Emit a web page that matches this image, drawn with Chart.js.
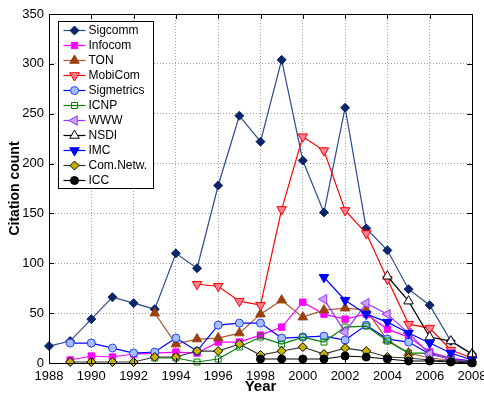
<!DOCTYPE html>
<html>
<head>
<meta charset="utf-8">
<title>Citation count per year</title>
<script src="https://cdn.jsdelivr.net/npm/chart.js@4.4.0/dist/chart.umd.min.js"></script>
<style>
  html, body { margin: 0; padding: 0; background: #fff; }
  #c { display: block; }
</style>
</head>
<body>
<canvas id="c" width="484" height="394"></canvas>
<script>
/* ── Citations per venue, by year (null = venue not yet running) ── */
const years      = [1988, 1989, 1990, 1991, 1992, 1993, 1994, 1995, 1996, 1997, 1998,
                    1999, 2000, 2001, 2002, 2003, 2004, 2005, 2006, 2007, 2008];
const sigcomm    = [17, 22, 44, 66, 60, 54, 110, 95, 178, 248, 222, 304, 203, 151, 256, 135, 113, 74, 58, 22, 9];
const infocom    = [null, 3, 7, 6, 9, 10, 11, 10, 21, 21, 28, 36, 61, 49, 44, 49, 34, 26, 11, 5, 2];
const ton        = [null, null, null, null, null, 50, 19, 24, 25, 30, 49, 63, 46, 53, 55, 53, 23, 10, 5, 3, 1];
const mobicom    = [null, null, null, null, null, null, null, 79, 77, 62, 58, 154, 227, 213, 153, 130, 84, 39, 35, 13, 5];
const sigmetrics = [null, 20, 20, 15, 10, 11, 25, 12, 38, 40, 40, 25, 26, 27, 23, 38, 24, 21, 9, 4, 2];
const icnp       = [null, null, null, null, null, 5, 5, 1, 4, 16, 26, 19, 26, 21, 36, 37, 22, 10, 10, 4, 1];
const www        = [null, null, null, null, null, null, null, null, null, null, null, null, null, 64, 31, 60, 49, 30, 9, 4, 1];
const nsdi       = [null, null, null, null, null, null, null, null, null, null, null, null, null, null, null, null, 87, 62, 26, 22, 9];
const imc        = [null, null, null, null, null, null, null, null, null, null, null, null, null, 86, 63, 49, 41, 30, 20, 10, 3];
const comnetw    = [null, 1, 1, 1, 1, 6, 6, 12, 12, 19, 8, 12, 16, 9, 15, 12, 6, 5, 3, 2, 1];
const icc        = [null, null, null, null, null, null, null, null, null, null, 4, 4, 4, 4, 7, 6, 4, 2, 2, 1, 0];

const xTicks = [1988, 1990, 1992, 1994, 1996, 1998, 2000, 2002, 2004, 2006, 2008];
const yTicks = [0, 50, 100, 150, 200, 250, 300, 350];

const FONT = "'Liberation Sans', Arial, Helvetica, sans-serif";

/* ── Line / marker style per venue ── */
const series = [
  { label: 'Sigcomm',    data: sigcomm,    line: '#2a4a8c', fill: '#0a2668', edge: '#0a2668', style: 'rectRot',  rot: 0,   r: 4.5 },
  { label: 'Infocom',    data: infocom,    line: '#ff00ff', fill: '#ff00ff', edge: '#ff00ff', style: 'rect',     rot: 0,   r: 4.5 },
  { label: 'TON',        data: ton,        line: '#a65a33', fill: '#9a400f', edge: '#9a400f', style: 'triangle', rot: 0,   r: 5.5 },
  { label: 'MobiCom',    data: mobicom,    line: '#ff0000', fill: '#ff8095', edge: '#ff0000', style: 'triangle', rot: 180, r: 5.5 },
  { label: 'Sigmetrics', data: sigmetrics, line: '#0000ff', fill: '#a6c0ff', edge: '#2040ff', style: 'circle',   rot: 0,   r: 4 },
  { label: 'ICNP',       data: icnp,       line: '#008000', fill: 'rgba(255,255,255,0)', edge: '#008000', style: 'rect', rot: 0, r: 4.2 },
  { label: 'WWW',        data: www,        line: '#9933ff', fill: '#c9a3ff', edge: '#9933ff', style: 'triangle', rot: -90, r: 5.5 },
  { label: 'NSDI',       data: nsdi,       line: '#000000', fill: '#ffffff', edge: '#000000', style: 'triangle', rot: 0,   r: 5.5 },
  { label: 'IMC',        data: imc,        line: '#0000ff', fill: '#0000ff', edge: '#0000ff', style: 'triangle', rot: 180, r: 5.5 },
  { label: 'Com.Netw.',  data: comnetw,    line: '#333333', fill: '#c8b400', edge: '#000000', style: 'rectRot',  rot: 0,   r: 4.5 },
  { label: 'ICC',        data: icc,        line: '#000000', fill: '#000000', edge: '#000000', style: 'circle',   rot: 0,   r: 4 },
];

const datasets = series.map((s, i) => ({
  label:                s.label,
  data:                 years.map((yr, k) => ({ x: yr, y: s.data[k] })).filter(p => p.y !== null),
  borderColor:          s.line,
  backgroundColor:      s.fill,
  borderWidth:          1.2,
  pointStyle:           s.style,
  pointRotation:        s.rot,
  pointRadius:          s.r,
  pointHoverRadius:     s.r,
  pointBackgroundColor: s.fill,
  pointBorderColor:     s.edge,
  pointBorderWidth:     1,
  tension:              0,
  clip:                 false,
  order:                series.length - i,   // later venues painted on top
}));

/* ── Axes box with inward tick marks on all four sides ── */
const axesBox = {
  id: 'axesBox',
  afterDatasetsDraw(chart) {
    const { ctx, chartArea: a, scales: { x, y } } = chart;
    const tl = 5;
    ctx.save();
    ctx.strokeStyle = '#000';
    ctx.lineWidth = 1;
    ctx.beginPath();
    ctx.rect(Math.round(a.left) + 0.5, Math.round(a.top) + 0.5,
             Math.round(a.right - a.left), Math.round(a.bottom - a.top));
    xTicks.forEach(t => {
      const px = Math.round(x.getPixelForValue(t)) + 0.5;
      ctx.moveTo(px, a.bottom); ctx.lineTo(px, a.bottom - tl);
      ctx.moveTo(px, a.top);    ctx.lineTo(px, a.top + tl);
    });
    yTicks.forEach(t => {
      const py = Math.round(y.getPixelForValue(t)) + 0.5;
      ctx.moveTo(a.left, py);  ctx.lineTo(a.left + tl, py);
      ctx.moveTo(a.right, py); ctx.lineTo(a.right - tl, py);
    });
    ctx.stroke();
    ctx.restore();
  }
};

/* ── Boxed legend in the upper-left corner (line sample + marker + name) ── */
const boxLegend = {
  id: 'boxLegend',
  afterDraw(chart) {
    const { ctx, chartArea: a } = chart;
    const bx = Math.round(a.left) + 9.5, by = Math.round(a.top) + 7.5;
    const bw = 95, bh = 167, row = 15;
    ctx.save();
    ctx.fillStyle = '#fff';
    ctx.fillRect(bx, by, bw, bh);
    ctx.strokeStyle = '#000';
    ctx.lineWidth = 1;
    ctx.strokeRect(bx, by, bw, bh);
    ctx.font = '12px ' + FONT;
    ctx.textBaseline = 'middle';
    chart.data.datasets.forEach((ds, i) => {
      const cy = by + 9 + i * row;
      ctx.strokeStyle = ds.borderColor;
      ctx.lineWidth = ds.borderWidth;
      ctx.beginPath();
      ctx.moveTo(bx + 5, cy); ctx.lineTo(bx + 27, cy);
      ctx.stroke();
      ctx.fillStyle = ds.pointBackgroundColor;
      ctx.strokeStyle = ds.pointBorderColor;
      ctx.lineWidth = ds.pointBorderWidth;
      Chart.helpers.drawPoint(ctx, {
        pointStyle: ds.pointStyle, rotation: ds.pointRotation,
        radius: ds.pointRadius, borderWidth: ds.pointBorderWidth
      }, bx + 16, cy);
      ctx.fillStyle = '#000';
      ctx.fillText(ds.label, bx + 30, cy + 0.5);
    });
    ctx.restore();
  }
};

const gridOpts = { color: '#a0a0a0', lineWidth: 1, drawTicks: false };

new Chart(document.getElementById('c'), {
  type: 'line',
  data: { datasets },
  plugins: [axesBox, boxLegend],
  options: {
    responsive:       false,
    animation:        false,
    devicePixelRatio: 1,
    layout: { padding: { top: 14, right: 12, left: 0, bottom: 0 } },
    plugins: { legend: { display: false }, tooltip: { enabled: false } },
    scales: {
      x: {
        type: 'linear', min: 1988, max: 2008,
        grid: gridOpts,
        border: { display: false, dash: [1, 2] },
        ticks: {
          stepSize: 2, padding: 6, color: '#000', maxRotation: 0,
          font: { family: FONT, size: 13 },
          callback: v => String(v)
        },
        title: {
          display: true, text: 'Year', color: '#000',
          font: { family: FONT, size: 15, weight: 'bold', lineHeight: 1 },
          padding: { top: 0, bottom: 0 }
        },
        afterFit: s => { s.height = 31; s.paddingLeft = 0; s.paddingRight = 0; }
      },
      y: {
        type: 'linear', min: 0, max: 350,
        grid: gridOpts,
        border: { display: false, dash: [1, 2] },
        ticks: {
          stepSize: 50, padding: 5, color: '#000',
          font: { family: FONT, size: 13 }
        },
        title: {
          display: true, text: 'Citation count', color: '#000',
          font: { family: FONT, size: 14, weight: 'bold', lineHeight: 1 },
          padding: { top: 8, bottom: 0 }
        },
        afterFit: s => { s.width = 49; s.paddingTop = 0; s.paddingBottom = 0; }
      }
    }
  }
});
</script>
</body>
</html>
